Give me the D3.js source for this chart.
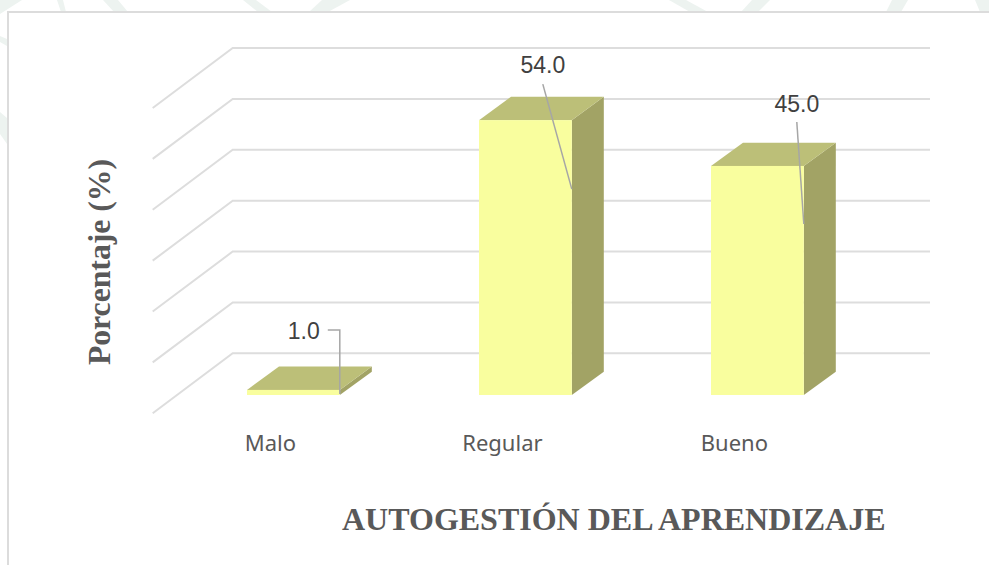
<!DOCTYPE html>
<html>
<head>
<meta charset="utf-8">
<script src="https://cdn.jsdelivr.net/npm/d3@7/dist/d3.min.js"></script>
<style>
html,body{margin:0;padding:0;background:#fff;overflow:hidden}
svg{display:block}
</style>
</head>
<body>
<svg id="c" width="989" height="565"></svg>
<script>
// Data
const categories = ["Malo", "Regular", "Bueno"];
const values = [1.0, 54.0, 45.0];
const yTicks = [0, 10, 20, 30, 40, 50, 60];
const valueLabels = ["1.0", "54.0", "45.0"];
const xTitle = "AUTOGESTIÓN DEL APRENDIZAJE";
const yTitle = "Porcentaje (%)";

// Layout
const W = 989, H = 565;
const svg = d3.select("#c");
const depth = {dx: 32, dy: 23.3};
const floor = {dx: 80, dy: 60};
const y = d3.scaleLinear().domain([0, 60]).range([395, 89.6]);
const gridY = d3.scaleLinear().domain([0, 60]).range([353.3, 48]);
const x = d3.scaleBand().domain(categories).range([177.4, 873.4]).paddingInner(0.6).paddingOuter(0.3);
const gridLeft = 232.7, gridRight = 930;

// Background watermark
const wm = [
  [[0,14],[0,0],[22,0]], [[57,0],[63,0],[66,12],[61,12]], [[103,0],[118,0],[128,12],[114,12]],
  [[243,0],[256,0],[272,12],[258,12]], [[322,0],[350,0],[328,12],[309,12]],
  [[669,0],[686,0],[708,12],[690,12]], [[752,0],[770,0],[758,12],[741,12]],
  [[892,0],[908,0],[901,12],[886,12]], [[975,0],[989,0],[989,12],[980,12]],
  [[0,36],[7,39],[7,46],[0,42]], [[0,112],[7,118],[7,144],[0,134]]
];
svg.append("g").selectAll("path").data(wm).join("path")
  .attr("d", d => d3.line()(d) + "Z").attr("fill", "#EDF3F0");

// Frame
svg.append("path").attr("d", d3.line()([[8, H], [8, 12], [W, 12]]))
  .attr("fill", "#fff").attr("stroke", "#DCDCDC").attr("stroke-width", 2);

// Gridlines
svg.append("g").selectAll("path").data(yTicks).join("path")
  .attr("d", t => d3.line()([[gridLeft - floor.dx, gridY(t) + floor.dy], [gridLeft, gridY(t)], [gridRight, gridY(t)]]))
  .attr("fill", "none").attr("stroke", "#DDDDDD").attr("stroke-width", 2);

// Bars
const bars = svg.append("g").selectAll("g").data(categories).join("g");
bars.append("path").attr("fill", "#A2A365").attr("d", (c, i) => {
  const r = x(c) + x.bandwidth(), t = y(values[i]), b = y(0);
  return d3.line()([[r, t], [r + depth.dx, t - depth.dy], [r + depth.dx, b - depth.dy], [r, b]]) + "Z";
});
bars.append("path").attr("fill", "#BCBF78").attr("d", (c, i) => {
  const l = x(c), r = l + x.bandwidth(), t = y(values[i]);
  return d3.line()([[l, t], [l + depth.dx, t - depth.dy], [r + depth.dx, t - depth.dy], [r, t]]) + "Z";
});
bars.append("rect").attr("fill", "#F9FE9E")
  .attr("x", c => x(c)).attr("width", x.bandwidth())
  .attr("y", (c, i) => y(values[i])).attr("height", (c, i) => y(0) - y(values[i]));

// Leaders & value labels (offsets relative to each bar's top right corner)
const leaderPts = [
  [[-12, -60], [0, -60], [0, 4]],
  [[-29, -36], [0, 69]],
  [[-7, -44], [0, 58]]
];
const labelAt = [[-20, -51], [-29, -47], [-7, -54]];
const labelAnchor = ["end", "middle", "middle"];
svg.append("g").selectAll("path").data(categories).join("path")
  .attr("d", (c, i) => d3.line()(leaderPts[i].map(p => [x(c) + x.bandwidth() + p[0], y(values[i]) + p[1]])))
  .attr("fill", "none").attr("stroke", "#A6A6A6").attr("stroke-width", 1.5);
svg.append("g").selectAll("text").data(valueLabels).join("text")
  .attr("x", (d, i) => x(categories[i]) + x.bandwidth() + labelAt[i][0])
  .attr("y", (d, i) => y(values[i]) + labelAt[i][1])
  .attr("text-anchor", (d, i) => labelAnchor[i])
  .attr("font-family", "'Liberation Sans', sans-serif").attr("font-size", 23)
  .attr("fill", "#404040").text(d => d);

// Category axis
const axis = svg.append("g").attr("class", "x-axis").attr("transform", "translate(-23,435.4)");
axis.call(d3.axisBottom(x).tickSize(0).tickPadding(0));
axis.select(".domain").remove();
axis.selectAll("text").attr("font-family", "'Noto Sans', sans-serif").attr("font-size", 22).attr("fill", "#595959");

// Titles
svg.append("text").attr("x", 342).attr("y", 530)
  .attr("font-family", "'Liberation Serif', serif").attr("font-weight", "bold").attr("font-size", 32)
  .attr("fill", "#595959").text(xTitle);
svg.append("text").attr("transform", "translate(110,262) rotate(-90)").attr("text-anchor", "middle")
  .attr("font-family", "'Liberation Serif', serif").attr("font-weight", "bold").attr("font-size", 31.7)
  .attr("fill", "#595959").text(yTitle);
</script>
</body>
</html>
